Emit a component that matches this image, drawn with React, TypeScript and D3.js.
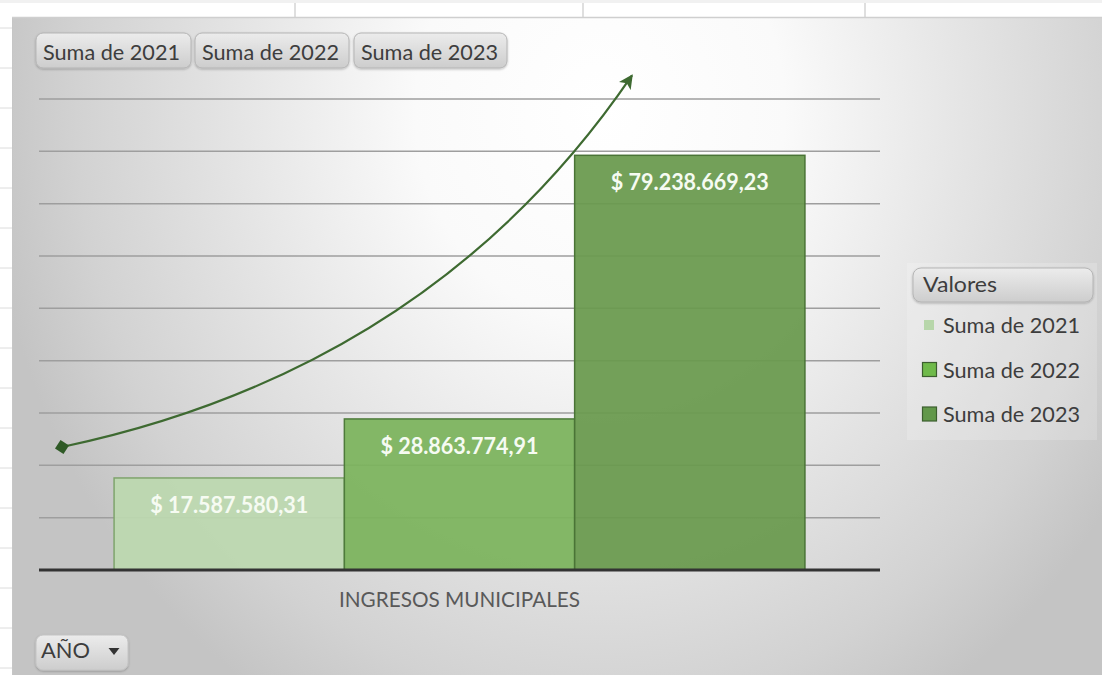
import React from "react";
import * as d3 from "d3";

// ---------- data ----------
const categories = ["INGRESOS MUNICIPALES"];
const seriesNames = ["Suma de 2021", "Suma de 2022", "Suma de 2023"];
const seriesValues = [17587580.31, 28863774.91, 79238669.23];
const filterButtons = ["Suma de 2021", "Suma de 2022", "Suma de 2023"];
const legendTitle = "Valores";
const fieldButton = "AÑO";
const yMax = 90000000;
const yTickCount = 9;

// ---------- layout / style ----------
const W = 1102;
const H = 675;
const plot = { left: 39, right: 880, top: 99, bottom: 570 };
const barFills = ["#bcd8af", "#7cb45d", "#6a9a4f"];
const barStrokes = ["#7fa46d", "#4e7b3b", "#4a7436"];
const legendFills = ["#b7d6aa", "#6fba4a", "#62984a"];
const FONT = "Lato, 'Open Sans', 'DejaVu Sans', sans-serif";

const esLocale = d3.formatLocale({
  decimal: ",",
  thousands: ".",
  grouping: [3],
  currency: ["$ ", ""],
});
const fmt = esLocale.format("$,.2f");

export default function App() {
  const y = d3.scaleLinear().domain([0, yMax]).range([plot.bottom, plot.top]);
  const x0 = d3.scaleBand<string>().domain(categories).range([plot.left, plot.right]).padding(0);
  const x1 = d3
    .scaleBand<string>()
    .domain(seriesNames)
    .range([0, x0.bandwidth()])
    .paddingInner(0)
    .paddingOuter(0.326);

  const ticks = y.ticks(yTickCount);

  // annotation arrow (relative to the plot)
  const p0: [number, number] = [plot.left + 23, y(23.5e6)];
  const p3: [number, number] = [632, y(94.5e6)];
  const c1: [number, number] = [260, y(31.5e6)];
  const c2: [number, number] = [475, y(50.5e6)];
  const arrowPath = d3.path();
  arrowPath.moveTo(p0[0], p0[1]);
  arrowPath.bezierCurveTo(c1[0], c1[1], c2[0], c2[1], p3[0], p3[1]);

  const rowLines = d3.range(28, H, 40);
  const colLines = [295, 583, 865];

  const btnX = [36, 195, 354];
  const btnW = [155, 154, 153];

  return (
    <svg
      width={W}
      height={H}
      style={{ position: "absolute", left: 0, top: 0, display: "block" }}
      fontFamily={FONT}
    >
      <defs>
        <radialGradient
          id="bg"
          gradientUnits="userSpaceOnUse"
          cx={600}
          cy={110}
          r={700}
          gradientTransform="translate(600,110) scale(0.88,1) translate(-600,-110)"
        >
          <stop offset="0" stopColor="#ffffff" />
          <stop offset="0.3" stopColor="#fafafa" />
          <stop offset="0.6" stopColor="#e4e4e4" />
          <stop offset="0.85" stopColor="#d2d2d2" />
          <stop offset="1" stopColor="#c4c4c4" />
        </radialGradient>
        <linearGradient id="btn" x1="0" y1="0" x2="0" y2="1">
          <stop offset="0" stopColor="#ececec" />
          <stop offset="1" stopColor="#cdcdcd" />
        </linearGradient>
        <filter id="shadow" x="-10%" y="-20%" width="120%" height="150%">
          <feDropShadow dx="0" dy="1" stdDeviation="1" floodColor="#000" floodOpacity="0.25" />
        </filter>
        <marker
          id="arrowHead"
          viewBox="0 0 10 10"
          refX="9"
          refY="5"
          markerWidth="6.5"
          markerHeight="6.5"
          orient="auto"
          markerUnits="strokeWidth"
        >
          <path d="M0,0 L10,5 L0,10 L2.5,5 Z" fill="#3e6a31" />
        </marker>
        <marker
          id="diamond"
          viewBox="0 0 10 10"
          refX="5"
          refY="5"
          markerWidth="6.5"
          markerHeight="6.5"
          orient="auto"
          markerUnits="strokeWidth"
        >
          <path d="M5,0 L10,5 L5,10 L0,5 Z" fill="#2f5a26" />
        </marker>
      </defs>

      {/* spreadsheet background */}
      <rect x={0} y={0} width={W} height={H} fill="#ffffff" />
      <rect x={0} y={0} width={W} height={3} fill="#f1f1f1" />
      {colLines.map((cx) => (
        <line key={cx} x1={cx} x2={cx} y1={3} y2={18} stroke="#d4d4d4" strokeWidth={1.5} />
      ))}
      {rowLines.map((ry) => (
        <line key={ry} x1={0} x2={12} y1={ry} y2={ry} stroke="#dcdcdc" strokeWidth={1} />
      ))}

      {/* chart area */}
      <rect x={12} y={18} width={W - 12} height={H - 18} fill="url(#bg)" />
      <line x1={12} x2={W} y1={17.5} y2={17.5} stroke="#cfcfcf" strokeWidth={1.5} />
      <line x1={12.5} x2={12.5} y1={18} y2={H} stroke="#c6c6c6" strokeWidth={1} />

      {/* gridlines */}
      {ticks
        .filter((t) => t > 0)
        .map((t) => (
          <line
            key={t}
            x1={plot.left}
            x2={plot.right}
            y1={y(t)}
            y2={y(t)}
            stroke="#9e9e9e"
            strokeWidth={1.5}
          />
        ))}

      {/* bars */}
      {categories.map((c) => (
        <g key={c} transform={`translate(${x0(c)},0)`}>
          {seriesNames.map((s, i) => {
            const bx = x1(s) as number;
            const top = y(seriesValues[i]);
            return (
              <g key={s}>
                <rect
                  x={bx}
                  y={top}
                  width={x1.bandwidth()}
                  height={y(0) - top}
                  fill={barFills[i]}
                  fillOpacity={0.94}
                  stroke={barStrokes[i]}
                  strokeWidth={1.5}
                />
                <text
                  x={bx + x1.bandwidth() / 2}
                  y={top + 35}
                  textAnchor="middle"
                  fill="#f6fbf2"
                  fontWeight="bold"
                  fontSize={22}
                  textLength={158}
                  lengthAdjust="spacingAndGlyphs"
                >
                  {fmt(seriesValues[i])}
                </text>
              </g>
            );
          })}
        </g>
      ))}

      {/* axis line */}
      <line x1={plot.left} x2={plot.right} y1={y(0)} y2={y(0)} stroke="#333333" strokeWidth={3} />

      {/* category label */}
      {categories.map((c) => (
        <text
          key={c}
          x={(x0(c) as number) + x0.bandwidth() / 2}
          y={607}
          textAnchor="middle"
          fill="#595959"
          fontSize={21}
          textLength={241}
          lengthAdjust="spacingAndGlyphs"
        >
          {c}
        </text>
      ))}

      {/* annotation arrow */}
      <path
        d={arrowPath.toString()}
        fill="none"
        stroke="#3e6a31"
        strokeWidth={2.2}
        markerEnd="url(#arrowHead)"
        markerStart="url(#diamond)"
      />

      {/* filter buttons */}
      {filterButtons.map((b, i) => (
        <g key={b}>
          <rect
            x={btnX[i]}
            y={33}
            width={btnW[i]}
            height={35}
            rx={7}
            fill="url(#btn)"
            stroke="#b5b5b5"
            strokeWidth={1}
            filter="url(#shadow)"
          />
          <text
            x={btnX[i] + 7}
            y={60}
            fill="#3d3d3d"
            fontSize={21}
            textLength={137}
            lengthAdjust="spacingAndGlyphs"
          >
            {b}
          </text>
        </g>
      ))}

      {/* field button AÑO */}
      <g>
        <rect
          x={36}
          y={635}
          width={92}
          height={35}
          rx={7}
          fill="url(#btn)"
          stroke="#c4c4c4"
          strokeWidth={1}
          filter="url(#shadow)"
        />
        <text x={41} y={658} fill="#3d3d3d" fontSize={21} textLength={49} lengthAdjust="spacingAndGlyphs">
          {fieldButton}
        </text>
        <path d="M108.5,648 L119.5,648 L114,655 Z" fill="#333333" />
      </g>

      {/* legend */}
      <g>
        <rect x={907} y={263} width={190} height={177} fill="#ffffff" fillOpacity={0.18} />
        <rect
          x={913}
          y={268}
          width={180}
          height={34}
          rx={8}
          fill="url(#btn)"
          stroke="#b5b5b5"
          strokeWidth={1}
          filter="url(#shadow)"
        />
        <text x={923} y={292} fill="#3d3d3d" fontSize={21} textLength={74} lengthAdjust="spacingAndGlyphs">
          {legendTitle}
        </text>
        {seriesNames.map((s, i) => {
          const cy = 325 + i * 44.5;
          const size = i === 0 ? 10 : 14;
          return (
            <g key={s}>
              <rect
                x={i === 0 ? 924 : 922.5}
                y={cy - size / 2}
                width={size}
                height={size}
                fill={legendFills[i]}
                stroke={i === 0 ? "none" : "#3c5f2f"}
                strokeWidth={1.2}
              />
              <text
                x={943}
                y={cy + 8}
                fill="#3d3d3d"
                fontSize={21}
                textLength={137}
                lengthAdjust="spacingAndGlyphs"
              >
                {s}
              </text>
            </g>
          );
        })}
      </g>
    </svg>
  );
}
